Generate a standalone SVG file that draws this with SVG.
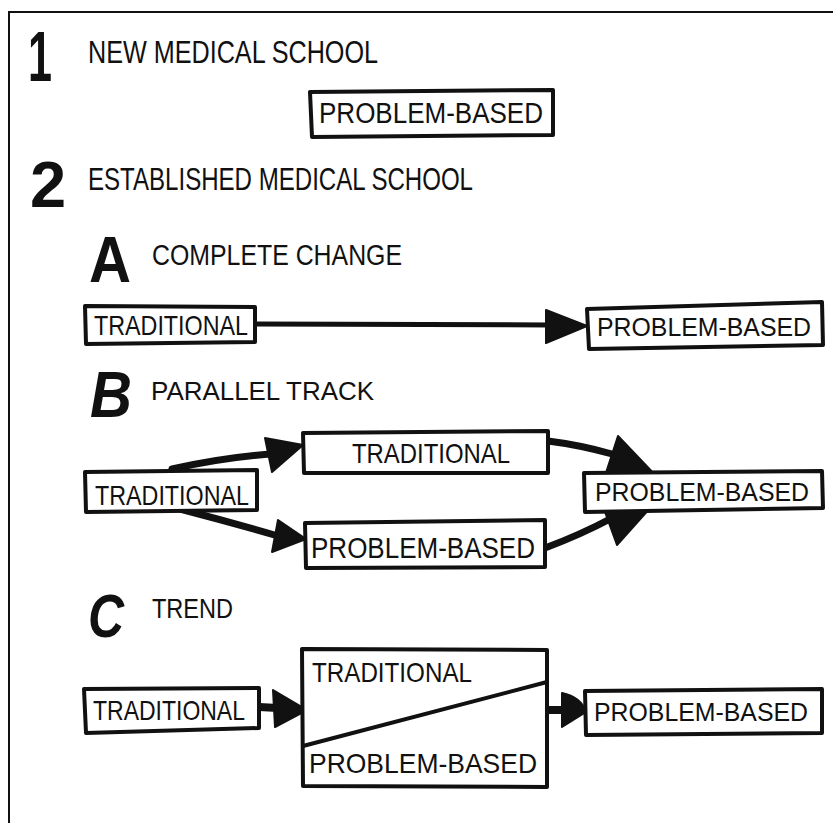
<svg xmlns="http://www.w3.org/2000/svg" width="833" height="823" viewBox="0 0 833 823">
<style>
.bx{fill:#fff;stroke:#111;stroke-width:4;stroke-linejoin:round}
.t{font-family:"Liberation Sans",Arial,sans-serif;fill:#111}
.big{font-family:"Liberation Sans",Arial,sans-serif;font-weight:bold;fill:#111}
.ln{fill:none;stroke:#111;stroke-linecap:round}
.ah{fill:#111;stroke:#111;stroke-width:2;stroke-linejoin:round}
</style>
<rect width="833" height="823" fill="#fff"/>
<path d="M9,823 L9,12 L833,12" fill="none" stroke="#111" stroke-width="2"/>

<g id="headings">
<text class="big" x="28" y="81" font-size="70" textLength="24" lengthAdjust="spacingAndGlyphs">1</text>
<text class="t" x="88" y="63" font-size="31" textLength="290" lengthAdjust="spacingAndGlyphs">NEW MEDICAL SCHOOL</text>
<text class="big" x="30" y="207" font-size="65">2</text>
<text class="t" x="88" y="190" font-size="31" textLength="385" lengthAdjust="spacingAndGlyphs">ESTABLISHED MEDICAL SCHOOL</text>
<text class="big" x="89" y="282" font-size="65" textLength="42" lengthAdjust="spacingAndGlyphs">A</text>
<text class="t" x="152" y="265" font-size="30" textLength="250" lengthAdjust="spacingAndGlyphs">COMPLETE CHANGE</text>
<text class="big" x="90" y="417" font-size="65" font-style="italic" textLength="42" lengthAdjust="spacingAndGlyphs">B</text>
<text class="t" x="151" y="400" font-size="26" textLength="223" lengthAdjust="spacingAndGlyphs">PARALLEL TRACK</text>
<text class="big" x="88" y="637" font-size="62" font-style="italic" textLength="36" lengthAdjust="spacingAndGlyphs">C</text>
<text class="t" x="152" y="618" font-size="28" textLength="81" lengthAdjust="spacingAndGlyphs">TREND</text>
</g>

<g id="connectors">
<path class="ln" d="M255,324 L550,325" stroke-width="5"/>
<polygon class="ah" points="546,310 587,326 546,343"/>
<path class="ln" d="M172,469 Q220,458 270,454" stroke-width="7"/>
<polygon class="ah" points="265,438 303,445 272,472"/>
<path class="ln" d="M180,509 Q230,522 278,536" stroke-width="7"/>
<polygon class="ah" points="278,520 306,539 272,552"/>
<path class="ln" d="M548,441 Q580,445 612,454" stroke-width="7"/>
<polygon class="ah" points="618,436 658,478 603,482"/>
<path class="ln" d="M545,548 Q580,535 612,518" stroke-width="7"/>
<polygon class="ah" points="617,545 600,498 660,497"/>
<path class="ln" d="M259,707 L278,708" stroke-width="8"/>
<polygon class="ah" points="273,690 307,710 275,727"/>
<path class="ln" d="M547,710 L565,710" stroke-width="8"/>
<path class="ah" d="M562,693 Q581,697 586,712 L562,727 Z"/>
</g>

<g id="n1-problem">
<polygon class="bx" points="310,92 553,90 553,135 312,137"/>
<text class="t" x="319" y="123" font-size="30" textLength="224" lengthAdjust="spacingAndGlyphs">PROBLEM-BASED</text>
</g>

<g id="a-traditional">
<polygon class="bx" points="85,306 255,307 255,342 86,344"/>
<text class="t" x="94" y="335" font-size="28" textLength="154" lengthAdjust="spacingAndGlyphs">TRADITIONAL</text>
</g>
<g id="a-problem">
<polygon class="bx" points="587,309 822,302 823,345 589,349"/>
<text class="t" x="597" y="336" font-size="25" textLength="214" lengthAdjust="spacingAndGlyphs">PROBLEM-BASED</text>
</g>

<g id="b-traditional-top">
<polygon class="bx" points="303,433 548,431 548,473 304,473"/>
<text class="t" x="352" y="463" font-size="28" textLength="158" lengthAdjust="spacingAndGlyphs">TRADITIONAL</text>
</g>
<g id="b-traditional-left">
<polygon class="bx" points="85,472 257,470 257,510 86,512"/>
<text class="t" x="95" y="505" font-size="28" textLength="154" lengthAdjust="spacingAndGlyphs">TRADITIONAL</text>
</g>
<g id="b-problem-lower">
<polygon class="bx" points="305,523 545,520 545,567 306,568"/>
<text class="t" x="311" y="558" font-size="30" textLength="224" lengthAdjust="spacingAndGlyphs">PROBLEM-BASED</text>
</g>
<g id="b-problem-right">
<polygon class="bx" points="584,473 822,471 823,508 585,512"/>
<text class="t" x="595" y="501" font-size="25" textLength="214" lengthAdjust="spacingAndGlyphs">PROBLEM-BASED</text>
</g>

<g id="c-traditional">
<polygon class="bx" points="84,689 259,688 259,728 86,733"/>
<text class="t" x="93" y="720" font-size="28" textLength="152" lengthAdjust="spacingAndGlyphs">TRADITIONAL</text>
</g>
<g id="c-trend-box">
<polygon class="bx" points="302,649 547,650 547,787 303,786"/>
<path class="ln" d="M303,746 L547,682" stroke-width="4"/>
<text class="t" x="312" y="682" font-size="28" textLength="160" lengthAdjust="spacingAndGlyphs">TRADITIONAL</text>
<text class="t" x="309" y="773" font-size="28" textLength="228" lengthAdjust="spacingAndGlyphs">PROBLEM-BASED</text>
</g>
<g id="c-problem">
<polygon class="bx" points="585,691 822,689 822,733 586,735"/>
<text class="t" x="594" y="721" font-size="25" textLength="214" lengthAdjust="spacingAndGlyphs">PROBLEM-BASED</text>
</g>
</svg>
